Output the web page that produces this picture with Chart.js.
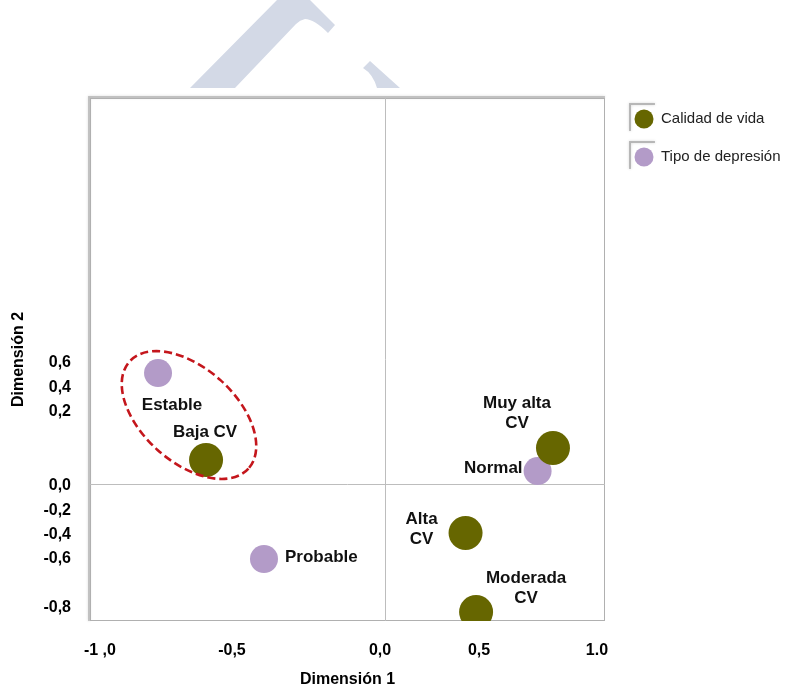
<!DOCTYPE html>
<html>
<head>
<meta charset="utf-8">
<script src="https://cdn.jsdelivr.net/npm/chart.js@4.4.1/dist/chart.umd.min.js"></script>
<style>
  html, body { margin: 0; padding: 0; background: #ffffff; }
  #wrap { width: 799px; height: 689px; }
</style>
</head>
<body>
<div id="wrap"><canvas id="c" width="799" height="689"></canvas></div>
<script>
// Categorías de calidad de vida (CV) y sus coordenadas en las dos dimensiones
const calidadNombres = [['Muy alta', 'CV'], ['Alta', 'CV'], ['Moderada', 'CV'], ['Baja CV']];
const calidadDim1 = [0.798, 0.383, 0.433, -0.849];
const calidadDim2 = [0.231, -0.320, -0.832, 0.154];

// Categorías de tipo de depresión
const depresionNombres = [['Normal'], ['Estable'], ['Probable']];
const depresionDim1 = [0.725, -1.077, -0.574];
const depresionDim2 = [0.082, 0.717, -0.488];

// Marcas de los ejes: dónde se colocan y qué texto muestran
const xTickAt = [-1.353, -0.726, -0.023, 0.447, 1.007];
const xTickLabels = ['-1 ,0', '-0,5', '0,0', '0,5', '1.0'];
const yTickAt = [0.782, 0.620, 0.465, -0.015, -0.177, -0.332, -0.488, -0.806];
const yTickLabels = ['0,6', '0,4', '0,2', '0,0', '-0,2', '-0,4', '-0,6', '-0,8'];

const FONT = "'Liberation Sans', Arial, sans-serif";
const OLIVA = '#666600';
const LILA = '#b39bc8';

// Desplazamiento (px) de cada etiqueta respecto a su punto
const etiquetaPos = {
  'Muy alta': { dx: -36, dy: -45, align: 'center' },
  'Alta': { dx: -44, dy: -14, align: 'center' },
  'Moderada': { dx: 50, dy: -34, align: 'center' },
  'Baja CV': { dx: -1, dy: -28, align: 'center' },
  'Normal': { dx: -15, dy: -3, align: 'right' },
  'Estable': { dx: 14, dy: 32, align: 'center' },
  'Probable': { dx: 21, dy: -2, align: 'left' }
};

const toPoints = (xs, ys) => xs.map((x, i) => ({ x: x, y: ys[i] }));

// Marca de agua clara en la parte superior
const marcaAgua = {
  id: 'marcaAgua',
  beforeDraw(chart) {
    const c = chart.ctx;
    c.save();
    c.fillStyle = '#d3d9e6';
    c.beginPath();
    c.moveTo(190, 88);
    c.lineTo(277, 0);
    c.lineTo(310, 0);
    c.lineTo(335, 25);
    c.lineTo(328, 33);
    c.quadraticCurveTo(314, 19, 305, 19);
    c.quadraticCurveTo(300, 20, 296, 24);
    c.lineTo(235, 88);
    c.closePath();
    c.fill();
    c.beginPath();
    c.moveTo(370, 61);
    c.lineTo(400, 88);
    c.lineTo(377, 88);
    c.quadraticCurveTo(373, 74, 363, 68);
    c.closePath();
    c.fill();
    c.restore();
  }
};

// Marco del área de trazado, con sombra en los bordes superior e izquierdo, y líneas de cero
const marco = {
  id: 'marco',
  beforeDatasetsDraw(chart) {
    const c = chart.ctx;
    const a = chart.chartArea;
    const xs = chart.scales.x, ys = chart.scales.y;
    c.save();
    c.fillStyle = '#ffffff';
    c.fillRect(a.left, a.top, a.right - a.left, a.bottom - a.top);
    // sombra
    c.strokeStyle = 'rgba(150,150,150,0.5)';
    c.lineWidth = 2;
    c.shadowColor = 'rgba(0,0,0,0.3)';
    c.shadowBlur = 3;
    c.beginPath();
    c.moveTo(a.left - 1, a.bottom);
    c.lineTo(a.left - 1, a.top - 1);
    c.lineTo(a.right, a.top - 1);
    c.stroke();
    c.shadowColor = 'transparent';
    c.shadowBlur = 0;
    // marco
    c.strokeStyle = '#b0b0b0';
    c.lineWidth = 1;
    c.strokeRect(a.left + 0.5, a.top + 0.5, a.right - a.left - 1, a.bottom - a.top - 1);
    // líneas de cero
    const x0 = Math.round(xs.getPixelForValue(0)) + 0.5;
    const y0 = Math.round(ys.getPixelForValue(0)) + 0.5;
    c.strokeStyle = '#bdbdbd';
    c.beginPath();
    c.moveTo(x0, a.top);
    c.lineTo(x0, a.bottom);
    c.moveTo(a.left, y0);
    c.lineTo(a.right, y0);
    c.stroke();
    c.restore();
  }
};

// Etiquetas de cada categoría y elipse discontinua que agrupa Estable y Baja CV
const etiquetas = {
  id: 'etiquetas',
  afterDatasetsDraw(chart) {
    const c = chart.ctx;
    const xs = chart.scales.x, ys = chart.scales.y;
    c.save();
    // elipse
    const ex = xs.getPixelForValue(-0.930);
    const ey = ys.getPixelForValue(0.445);
    c.strokeStyle = '#c4161c';
    c.lineWidth = 2.6;
    c.setLineDash([8, 4]);
    c.beginPath();
    c.ellipse(ex, ey, 80, 47, 42 * Math.PI / 180, 0, Math.PI * 2);
    c.stroke();
    c.setLineDash([]);

    c.font = "bold 17px " + FONT;
    c.fillStyle = '#111111';
    c.textBaseline = 'middle';
    const grupos = [calidadNombres, depresionNombres];
    chart.data.datasets.forEach((ds, di) => {
      const meta = chart.getDatasetMeta(di);
      meta.data.forEach((pt, i) => {
        const lineas = grupos[di][i];
        const pos = etiquetaPos[lineas[0]];
        c.textAlign = pos.align;
        lineas.forEach((t, k) => {
          c.fillText(t, pt.x + pos.dx, pt.y + pos.dy + k * 20);
        });
      });
    });
    c.restore();
  }
};

// Leyenda a la derecha del gráfico
const leyenda = {
  id: 'leyenda',
  afterDraw(chart) {
    const c = chart.ctx;
    c.save();
    chart.data.datasets.forEach((ds, i) => {
      const cy = 119 + i * 38;
      // recuadro con sombra
      c.strokeStyle = 'rgba(140,140,140,0.55)';
      c.lineWidth = 2;
      c.shadowColor = 'rgba(0,0,0,0.3)';
      c.shadowBlur = 3;
      c.beginPath();
      c.moveTo(630, cy + 12);
      c.lineTo(630, cy - 15);
      c.lineTo(655, cy - 15);
      c.stroke();
      c.shadowColor = 'transparent';
      c.shadowBlur = 0;
      c.fillStyle = ds.backgroundColor;
      c.beginPath();
      c.arc(644, cy, 9.5, 0, Math.PI * 2);
      c.fill();
      c.fillStyle = '#222222';
      c.font = "15px " + FONT;
      c.textAlign = 'left';
      c.textBaseline = 'middle';
      c.fillText(ds.label, 661, cy);
    });
    c.restore();
  }
};

const tickFont = { family: FONT, size: 16, weight: 'bold' };

new Chart(document.getElementById('c'), {
  type: 'scatter',
  data: {
    datasets: [
      {
        label: 'Calidad de vida',
        data: toPoints(calidadDim1, calidadDim2),
        backgroundColor: OLIVA,
        borderWidth: 0,
        pointRadius: 17,
        pointHoverRadius: 17,
        clip: 0
      },
      {
        label: 'Tipo de depresión',
        data: toPoints(depresionDim1, depresionDim2),
        backgroundColor: LILA,
        borderWidth: 0,
        pointRadius: 14,
        pointHoverRadius: 14,
        clip: 0
      }
    ]
  },
  options: {
    responsive: false,
    animation: false,
    events: [],
    layout: { padding: { left: 0, top: 98, right: 194, bottom: 0 } },
    plugins: {
      legend: { display: false },
      tooltip: { enabled: false }
    },
    scales: {
      x: {
        type: 'linear',
        min: -1.4,
        max: 1.045,
        grid: { display: false, drawTicks: false },
        border: { display: false },
        afterBuildTicks: s => { s.ticks = xTickAt.map(v => ({ value: v })); },
        afterFit: s => { s.height = 68; },
        ticks: {
          autoSkip: false,
          maxRotation: 0,
          padding: 20,
          color: '#000000',
          font: tickFont,
          callback: (v, i) => xTickLabels[i]
        },
        title: {
          display: true,
          text: 'Dimensión 1',
          color: '#000000',
          font: tickFont,
          padding: { top: 0, bottom: 0 }
        }
      },
      y: {
        type: 'linear',
        min: -0.89,
        max: 2.5,
        grid: { display: false, drawTicks: false },
        border: { display: false },
        afterBuildTicks: s => { s.ticks = yTickAt.map(v => ({ value: v })); },
        afterFit: s => { s.width = 90; },
        ticks: {
          autoSkip: false,
          padding: 19,
          color: '#000000',
          font: tickFont,
          callback: (v, i) => yTickLabels[i]
        },
        title: {
          display: true,
          text: 'Dimensión 2',
          color: '#000000',
          font: tickFont,
          padding: { top: 9, bottom: 0 }
        }
      }
    }
  },
  plugins: [marcaAgua, marco, etiquetas, leyenda]
});
</script>
</body>
</html>
